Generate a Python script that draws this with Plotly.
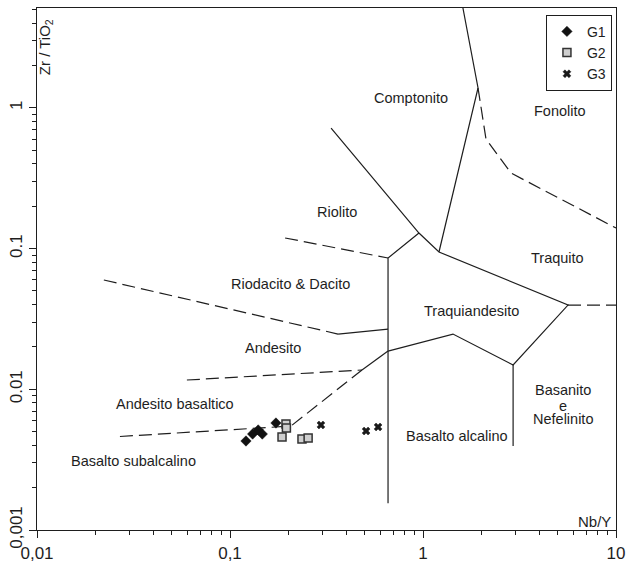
import numpy as np
import plotly.graph_objects as go

# ---- sample data (Nb/Y, Zr/TiO2) ----
g1_x = [0.121, 0.131, 0.140, 0.147, 0.173]
g1_y = [0.00429, 0.00481, 0.00514, 0.00481, 0.00576]
g2_x = [0.195, 0.196, 0.186, 0.236, 0.254]
g2_y = [0.00567, 0.00531, 0.00458, 0.00443, 0.00451]
g3_x = [0.296, 0.507, 0.585]
g3_y = [0.00558, 0.00505, 0.00540]

# ---- field boundaries (Winchester & Floyd), data units ----
solid_lines = [
    ([1.61, 1.928, 1.21], [5.13, 1.385, 0.0946]),
    ([0.334, 0.953, 1.21, 5.64, 2.93, 1.43, 0.659], [0.719, 0.129, 0.0946, 0.0397, 0.0149, 0.0247, 0.0187]),
    ([0.953, 0.659, 0.659], [0.129, 0.0857, 0.00155]),
    ([0.363, 0.659], [0.0247, 0.0268]),
    ([0.659, 0.483], [0.0187, 0.01371]),
    ([2.93, 2.93], [0.0149, 0.00395]),
]
dashed_lines = [
    ([1.928, 2.12, 2.86, 10.0], [1.385, 0.601, 0.344, 0.140]),
    ([5.64, 10.0], [0.0397, 0.0397]),
    ([0.193, 0.659], [0.119, 0.0857]),
    ([0.0222, 0.363], [0.0598, 0.0247]),
    ([0.0598, 0.483], [0.01164, 0.01371]),
    ([0.483, 0.207], [0.01371, 0.00548]),
    ([0.0269, 0.207], [0.00462, 0.00548]),
]

field_names = ["Comptonito", "Fonolito", "Riolito", "Traquito", "Riodacito & Dacito",
               "Andesito", "Andesito basaltico", "Basalto subalcalino", "Traquiandesito",
               "Basalto alcalino", "Basanito", "e", "Nefelinito"]
field_x = [0.867, 5.13, 0.358, 5.00, 0.207, 0.167, 0.0519, 0.0318, 1.794, 1.50, 5.31, 5.31, 5.31]
field_y = [1.18, 0.951, 0.182, 0.0857, 0.0560, 0.01966, 0.00786, 0.00309, 0.0360, 0.00466,
           0.00985, 0.0076, 0.00615]

x_tickvals = [0.01, 0.1, 1, 10]
x_ticktext = ["0,01", "0,1", "1", "10"]
y_tickvals = [0.001, 0.01, 0.1, 1]
y_ticktext = ["0,001", "0.01", "0.1", "1"]

FONT = "Liberation Sans, Arial, sans-serif"
INK = "#1e1e1e"

fig = go.Figure()

for xs, ys in solid_lines:
    fig.add_trace(go.Scatter(x=xs, y=ys, mode="lines", line=dict(color=INK, width=1.2),
                             showlegend=False, hoverinfo="skip"))
for xs, ys in dashed_lines:
    fig.add_trace(go.Scatter(x=xs, y=ys, mode="lines",
                             line=dict(color=INK, width=1.2, dash="13px,6px"),
                             showlegend=False, hoverinfo="skip"))

fig.add_trace(go.Scatter(x=g1_x, y=g1_y, mode="markers", name="G1",
                         marker=dict(symbol="diamond", size=8, color="#111111",
                                     line=dict(color="#111111", width=0.5))))
fig.add_trace(go.Scatter(x=g2_x, y=g2_y, mode="markers", name="G2",
                         marker=dict(symbol="square", size=8, color="#cfcfcf",
                                     line=dict(color="#333333", width=1.5))))
fig.add_trace(go.Scatter(x=g3_x, y=g3_y, mode="markers", name="G3",
                         marker=dict(symbol="x", size=7, color="#1a1a1a",
                                     line=dict(color="#1a1a1a", width=0.5))))

annotations = []
for name, fx, fy in zip(field_names, field_x, field_y):
    annotations.append(dict(x=np.log10(fx), y=np.log10(fy), xref="x", yref="y", text=name,
                            showarrow=False, font=dict(family=FONT, size=14.5, color=INK),
                            xanchor="center", yanchor="middle", borderpad=0))
annotations.append(dict(x=0.0138, y=0.925, xref="paper", yref="paper",
                        text="Zr / TiO<sub>2</sub>", textangle=-90, showarrow=False,
                        font=dict(family=FONT, size=15, color=INK),
                        xanchor="center", yanchor="middle"))
annotations.append(dict(x=0.994, y=0.017, xref="paper", yref="paper", text="Nb/Y",
                        showarrow=False, font=dict(family=FONT, size=15, color=INK),
                        xanchor="right", yanchor="middle"))

x_minor = [k * 10.0 ** n for n in (-2, -1, 0) for k in range(2, 10)]
y_minor = [k * 10.0 ** n for n in (-3, -2, -1, 0) for k in range(2, 10) if k * 10.0 ** n < 5.13]

fig.update_layout(
    width=628, height=563,
    margin=dict(l=37, r=12, t=8, b=33, autoexpand=False),
    paper_bgcolor="white", plot_bgcolor="white",
    font=dict(family=FONT, color=INK),
    annotations=annotations,
    legend=dict(x=0.993, y=0.987, xanchor="right", yanchor="top",
                bordercolor="#1e1e1e", borderwidth=1, bgcolor="white",
                font=dict(family=FONT, size=14, color=INK), itemwidth=30,
                tracegroupgap=0),
    xaxis=dict(type="log", range=[-2, 1], showgrid=False, zeroline=False, automargin=False,
               showline=True, linecolor=INK, linewidth=1.2, mirror=True,
               tickvals=x_tickvals, ticktext=x_ticktext, ticks="outside",
               ticklen=7, tickwidth=1, tickcolor=INK,
               tickfont=dict(family=FONT, size=17, color=INK),
               minor=dict(tickvals=x_minor, ticks="outside", ticklen=4, tickwidth=1, tickcolor=INK)),
    yaxis=dict(type="log", range=[-3, 0.71], showgrid=False, zeroline=False, automargin=False,
               showline=True, linecolor=INK, linewidth=1.2, mirror=True,
               tickvals=y_tickvals, ticktext=y_ticktext, ticks="outside",
               ticklen=7, tickwidth=1, tickcolor=INK, tickangle=-90,
               tickfont=dict(family=FONT, size=17, color=INK),
               minor=dict(tickvals=y_minor, ticks="outside", ticklen=4, tickwidth=1, tickcolor=INK)),
)

fig.write_html("out.html", config={"displayModeBar": False},
               post_script="document.body.style.margin='0';document.body.style.overflow='hidden';")
